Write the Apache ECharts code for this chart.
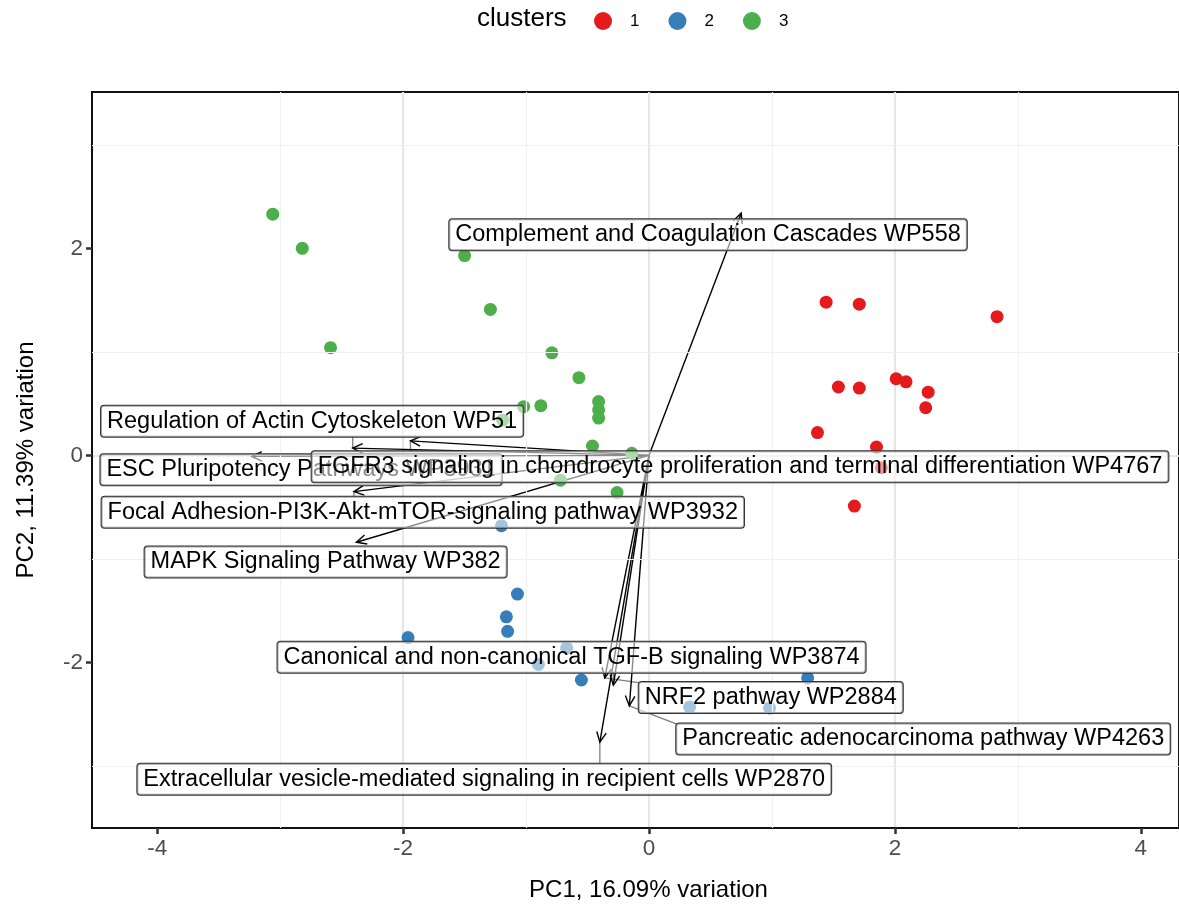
<!DOCTYPE html>
<html><head><meta charset="utf-8">
<script src="https://cdn.jsdelivr.net/npm/echarts@6/dist/echarts.min.js"></script>
<style>html,body{margin:0;padding:0;background:#fff}#c{width:1179px;height:910px}</style>
</head><body><div id="c"></div>
<script>
// ---- data ----
const clusterNames = ['1', '2', '3'];
const cluster1 = [[1.44,1.48],[1.71,1.46],[2.83,1.34],[1.54,0.66],[1.71,0.65],[2.01,0.74],[2.09,0.71],[2.27,0.61],[2.25,0.46],[1.37,0.22],[1.85,0.08],[1.89,-0.12],[1.67,-0.49]];
const cluster2 = [[-1.20,-0.68],[-1.07,-1.34],[-1.16,-1.56],[-1.15,-1.70],[-1.96,-1.76],[-0.67,-1.86],[-0.90,-2.02],[-0.55,-2.17],[1.29,-2.15],[0.33,-2.43],[0.98,-2.44]];
const cluster3 = [[-3.06,2.33],[-2.82,2.00],[-1.50,1.93],[-1.29,1.41],[-2.59,1.04],[-0.79,0.99],[-0.57,0.75],[-1.02,0.47],[-0.88,0.48],[-0.41,0.52],[-0.41,0.44],[-0.41,0.36],[-1.19,0.34],[-0.46,0.09],[-0.14,0.02],[-0.72,-0.24],[-0.26,-0.36]];
const loadingNames = [
  'Complement and Coagulation Cascades WP558',
  'Regulation of Actin Cytoskeleton WP51',
  'ESC Pluripotency Pathways WP3931',
  'FGFR3 signaling in chondrocyte proliferation and terminal differentiation WP4767',
  'Focal Adhesion-PI3K-Akt-mTOR-signaling pathway WP3932',
  'MAPK Signaling Pathway WP382',
  'Canonical and non-canonical TGF-B signaling WP3874',
  'NRF2 pathway WP2884',
  'Pancreatic adenocarcinoma pathway WP4263',
  'Extracellular vesicle-mediated signaling in recipient cells WP2870'
];
const loadingX = [0.75, -2.41, -3.23, -1.94, -2.40, -2.38, -0.29, -0.36, -0.16, -0.40];
const loadingY = [2.34, 0.07, -0.01, 0.14, -0.35, -0.84, -2.22, -2.15, -2.42, -2.77];
// repelled label anchor positions (data units)
const labelX = [0.48, -2.74, -2.83, 0.74, -1.84, -2.63, -0.63, 0.99, 2.23, -1.34];
const labelY = [2.13, 0.33, -0.14, -0.11, -0.55, -1.03, -1.95, -2.34, -2.74, -3.13];
const xTicks = [-4, -2, 0, 2, 4];
const yTicks = [-2, 0, 2];
const xMinor = [-3, -1, 1, 3];
const yMinor = [-3, -1, 1, 3];
const xTitle = 'PC1, 16.09% variation';
const yTitle = 'PC2, 11.39% variation';
const legendTitle = 'clusters';

// ---- style ----
const colors = ['#E41A1C', '#377EB8', '#4DAF4A'];
const FONT = '"Liberation Sans", Arial, Helvetica, sans-serif';
const labelFontSize = 23.5;
const measureCtx = document.createElement('canvas').getContext('2d');
measureCtx.font = labelFontSize + 'px ' + FONT;

const chart = echarts.init(document.getElementById('c'), null, {renderer: 'canvas'});

function arrowItem(params, api) {
  const o = api.coord([0, 0]);
  const t = api.coord([api.value(0), api.value(1)]);
  const ang = Math.atan2(t[1] - o[1], t[0] - o[0]);
  const L = 11, A = Math.PI / 7;
  const p1 = [t[0] - L * Math.cos(ang - A), t[1] - L * Math.sin(ang - A)];
  const p2 = [t[0] - L * Math.cos(ang + A), t[1] - L * Math.sin(ang + A)];
  return {type: 'group', children: [
    {type: 'line', shape: {x1: o[0], y1: o[1], x2: t[0], y2: t[1]}, style: {stroke: '#000', lineWidth: 1.4}},
    {type: 'polyline', shape: {points: [p1, t, p2]}, style: {stroke: '#000', fill: null, lineWidth: 1.4}}
  ]};
}

const padX = 6, boxH = 30;
function segItem(params, api) {
  const i = api.value(4);
  const c = api.coord([api.value(0), api.value(1)]);
  const t = api.coord([api.value(2), api.value(3)]);
  const hw = measureCtx.measureText(loadingNames[i]).width / 2 + padX;
  const hh = boxH / 2;
  // nearest point of the label box to the arrow tip
  const nx = Math.min(Math.max(t[0], c[0] - hw), c[0] + hw);
  const ny = Math.min(Math.max(t[1], c[1] - hh), c[1] + hh);
  const d = Math.hypot(nx - t[0], ny - t[1]);
  if (d < 5) return null;
  return {type: 'line', shape: {x1: t[0], y1: t[1], x2: nx, y2: ny}, style: {stroke: '#7f7f7f', lineWidth: 1.3}};
}

function labelItem(params, api) {
  const i = api.value(4);
  const c = api.coord([api.value(0), api.value(1)]);
  return {type: 'text', x: c[0], y: c[1], style: {
    text: loadingNames[i], font: labelFontSize + 'px ' + FONT, fill: '#000',
    align: 'center', verticalAlign: 'middle',
    backgroundColor: 'rgba(255,255,255,0.55)', borderColor: '#333', borderWidth: 1, borderRadius: 3,
    padding: [4, padX, 3, padX]
  }};
}

const labelData = labelX.map((x, i) => [x, labelY[i], loadingX[i], loadingY[i], i]);
const arrowData = loadingX.map((x, i) => [x, loadingY[i]]);

const axisCommon = {
  type: 'value',
  axisLine: {show: true, onZero: false, lineStyle: {color: '#111', width: 2}},
  axisTick: {show: true, length: 6, lineStyle: {color: '#333', width: 2.5}},
  splitLine: {show: true, showMinLine: false, showMaxLine: false, lineStyle: {color: '#e6e6e6', width: 2.2}},
  axisLabel: {color: '#4d4d4d', fontSize: 22.5, fontFamily: FONT, margin: 9},
  nameLocation: 'middle',
  nameTextStyle: {color: '#000', fontSize: 24, fontFamily: FONT}
};

chart.setOption({
  animation: false,
  backgroundColor: '#fff',
  textStyle: {fontFamily: FONT},
  grid: {left: 92, right: 0, top: 92, bottom: 82, show: true, borderColor: '#111', borderWidth: 2, backgroundColor: 'transparent'},
  xAxis: Object.assign({}, axisCommon, {
    min: -4.53, max: 4.31,
    axisTick: Object.assign({}, axisCommon.axisTick, {customValues: xTicks}),
    axisLabel: Object.assign({}, axisCommon.axisLabel, {customValues: xTicks}),
    name: xTitle, nameGap: 50,
    nameTextStyle: Object.assign({}, axisCommon.nameTextStyle, {padding: [0, 0, 0, 26]})
  }),
  yAxis: Object.assign({}, axisCommon, {
    min: -3.60, max: 3.51,
    axisTick: Object.assign({}, axisCommon.axisTick, {customValues: yTicks}),
    axisLabel: Object.assign({}, axisCommon.axisLabel, {customValues: yTicks}),
    name: yTitle, nameGap: 54
  }),
  legend: {
    data: clusterNames, left: 589, top: 7, itemWidth: 18, itemHeight: 18, itemGap: 29,
    icon: 'circle',
    textStyle: {fontSize: 17, color: '#000', fontFamily: FONT, padding: [0, 0, 0, 13]}
  },
  graphic: [{
    type: 'text', left: 477, top: 6,
    style: {text: legendTitle, font: '26px ' + FONT, fill: '#000'}
  }],
  series: [
    {
      type: 'scatter', name: 'minorGrid', data: [], z: 1, silent: true,
      markLine: {
        silent: true, symbol: 'none', label: {show: false}, animation: false,
        lineStyle: {color: '#f0f0f0', width: 1.2, type: 'solid'},
        data: xMinor.map(v => ({xAxis: v})).concat(yMinor.map(v => ({yAxis: v})))
      }
    },
    {type: 'custom', name: 'segments', data: labelData, renderItem: segItem, z: 2, silent: true, clip: false},
    {type: 'custom', name: 'arrows', data: arrowData, renderItem: arrowItem, z: 3, silent: true},
    {type: 'scatter', name: '1', data: cluster1, symbolSize: 13, itemStyle: {color: colors[0], opacity: 1}, z: 4},
    {type: 'scatter', name: '2', data: cluster2, symbolSize: 13, itemStyle: {color: colors[1], opacity: 1}, z: 4},
    {type: 'scatter', name: '3', data: cluster3, symbolSize: 13, itemStyle: {color: colors[2], opacity: 1}, z: 4},
    {type: 'custom', name: 'labels', data: labelData, renderItem: labelItem, z: 5, silent: true, clip: false}
  ]
});
</script></body></html>
